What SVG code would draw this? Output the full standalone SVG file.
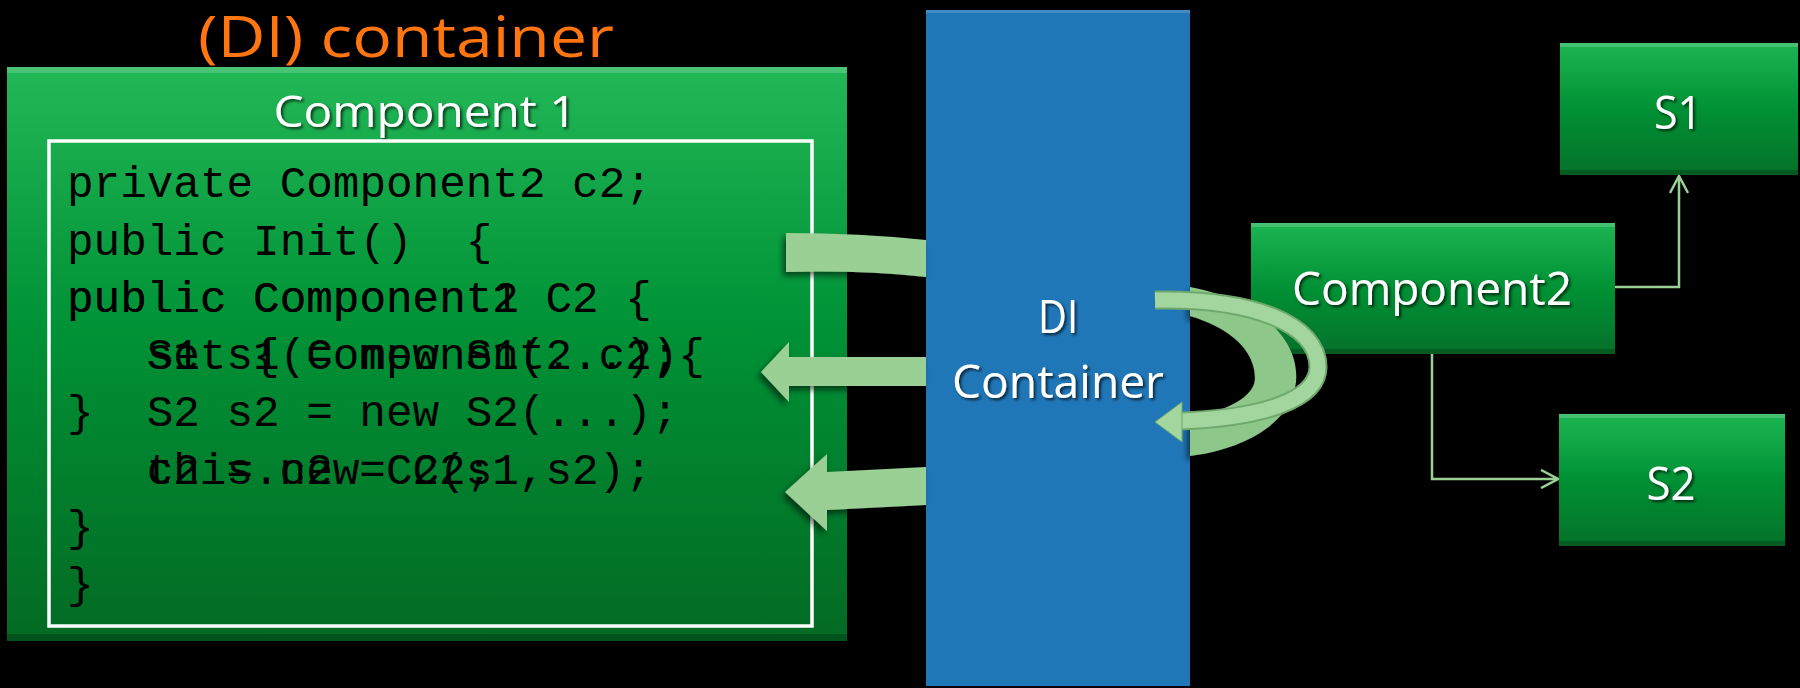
<svg xmlns="http://www.w3.org/2000/svg" width="1800" height="688" viewBox="0 0 1800 688">
<defs>
<linearGradient id="gBig" x1="0" y1="0" x2="0" y2="1">
<stop offset="0" stop-color="#22B757"/>
<stop offset="0.45" stop-color="#009236"/>
<stop offset="1" stop-color="#036A23"/>
</linearGradient>
<linearGradient id="gBox" x1="0" y1="0" x2="0" y2="1">
<stop offset="0" stop-color="#1DB553"/>
<stop offset="0.5" stop-color="#009134"/>
<stop offset="1" stop-color="#05712A"/>
</linearGradient>
<filter id="tsh" x="-10%" y="-10%" width="130%" height="140%">
<feDropShadow dx="2" dy="2" stdDeviation="1.5" flood-color="#000" flood-opacity="0.7"/>
</filter>
<filter id="ash" x="-20%" y="-30%" width="140%" height="160%">
<feDropShadow dx="-3" dy="4" stdDeviation="3" flood-color="#000" flood-opacity="0.55"/>
</filter>
<marker id="open" viewBox="0 0 20 20" refX="19" refY="10" markerWidth="20" markerHeight="20" markerUnits="userSpaceOnUse" orient="auto">
<polyline points="2,1 19,10 2,19" fill="none" stroke="#9ACF96" stroke-width="2.5"/>
</marker>
<style>
.lbl{font-family:"Open Sans","Noto Sans","Liberation Sans",sans-serif;fill:#fff;filter:url(#tsh)}
.code{font-family:"Liberation Mono","DejaVu Sans Mono",monospace;font-size:44.3px;fill:#000}
.fat{fill:#9ACF96;filter:url(#ash)}
.thin{fill:none;stroke:#9ACF96;stroke-width:2.5}
.bevt{fill:#fff;opacity:0.18}
.bevb{fill:#000;opacity:0.2}
</style>
</defs>
<rect width="1800" height="688" fill="#000"/>

<g id="title">
<text x="198" y="57" font-family="Open Sans, Noto Sans, Liberation Sans, sans-serif" font-size="56" fill="#FF7510" textLength="416" lengthAdjust="spacingAndGlyphs">(DI) container</text>
</g>

<g id="component1">
<rect x="7" y="67" width="840" height="574" fill="url(#gBig)"/>
<rect x="7" y="67" width="840" height="6" class="bevt"/>
<rect x="7" y="634" width="840" height="7" class="bevb"/>
<text class="lbl" x="425" y="127" font-size="44" text-anchor="middle" textLength="303" lengthAdjust="spacingAndGlyphs">Component 1</text>
<rect x="49" y="141" width="763" height="485" fill="none" stroke="#fff" stroke-width="3.5"/>
<g class="code">
<text x="67" y="197">private Component2 c2;</text>
<text x="67" y="254.5">public Init()</text>
<text x="465.7" y="254.5">{</text>
<text x="67" y="312">public Component2 C2 {</text>
<text x="67" y="312">public Component1</text>
<text x="146.7" y="369">S1 s1 = new S1(...);</text>
<text x="146.7" y="369">set {</text>
<text x="279.6" y="369">(Component2 c2){</text>
<text x="67" y="426">}</text>
<text x="146.7" y="426">S2 s2 = new S2(...);</text>
<text x="146.7" y="484">c2 = new C2(s1,s2);</text>
<text x="146.7" y="484">this.c2 = C2;</text>
<text x="67" y="541">}</text>
<text x="67" y="598">}</text>
</g>
</g>

<g id="di-container">
<rect x="926" y="10" width="264" height="676" fill="#2077B8"/>
<rect x="926" y="10" width="264" height="3" fill="#fff" opacity="0.15"/>
<text class="lbl" x="1058" y="333" font-size="46" text-anchor="middle" textLength="40" lengthAdjust="spacingAndGlyphs">DI</text>
<text class="lbl" x="1058" y="398" font-size="45" text-anchor="middle" textLength="212" lengthAdjust="spacingAndGlyphs">Container</text>
</g>

<g id="component2">
<rect x="1251" y="223" width="364" height="131" fill="url(#gBox)"/>
<rect x="1251" y="223" width="364" height="4" class="bevt"/>
<rect x="1251" y="349" width="364" height="5" class="bevb"/>
<text class="lbl" x="1432" y="305" font-size="45" text-anchor="middle" textLength="280" lengthAdjust="spacingAndGlyphs">Component2</text>
</g>

<g id="s1">
<rect x="1560" y="43" width="238" height="132" fill="url(#gBox)"/>
<rect x="1560" y="43" width="238" height="4" class="bevt"/>
<rect x="1560" y="170" width="238" height="5" class="bevb"/>
<text class="lbl" x="1678" y="129" font-size="46" text-anchor="middle" textLength="48" lengthAdjust="spacingAndGlyphs">S1</text>
</g>

<g id="s2">
<rect x="1559" y="414" width="226" height="132" fill="url(#gBox)"/>
<rect x="1559" y="414" width="226" height="4" class="bevt"/>
<rect x="1559" y="541" width="226" height="5" class="bevb"/>
<text class="lbl" x="1671" y="500" font-size="46" text-anchor="middle" textLength="49" lengthAdjust="spacingAndGlyphs">S2</text>
</g>

<g id="connectors">
<path class="fat" d="M786,233 Q860,233 926,240 L926,277 Q860,270 786,272 Z"/>
<path class="fat" d="M761,372 L789,342 L789,357 L926,357 L926,386 L789,386 L789,402 Z"/>
<path class="fat" d="M785,492 L827,454 L827,472 L926,467 L926,505 L827,510 L827,531 Z"/>
<path d="M1190,287 C1260,300 1300,340 1296,382 C1292,420 1250,448 1190,456 L1190,420 C1225,410 1255,398 1255,378 C1255,350 1230,328 1190,316 Z" fill="#8EC78A" filter="url(#ash)"/>
<path d="M1155,300 C1255,298 1318,325 1318,367 C1318,400 1262,418 1180,421" fill="none" stroke="#6FA86C" stroke-width="19"/>
<path d="M1155,300 C1255,298 1318,325 1318,367 C1318,400 1262,418 1180,421" fill="none" stroke="#A2D69E" stroke-width="15"/>
<polygon points="1155,422 1182,402 1182,442" fill="#A2D69E" stroke="#6FA86C" stroke-width="1"/>
<path class="thin" d="M1615,287 H1679 V176" marker-end="url(#open)"/>
<path class="thin" d="M1432,354 V479 H1558" marker-end="url(#open)"/>
</g>
</svg>
